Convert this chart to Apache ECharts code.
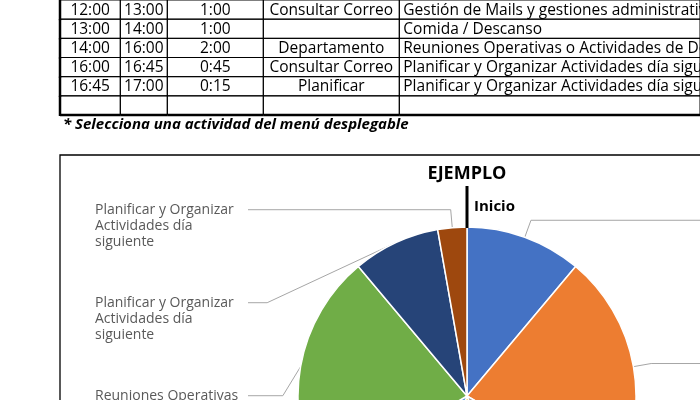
<!DOCTYPE html>
<html>
<head>
    <meta charset="utf-8">
    <title>EJEMPLO</title>
    <script src="https://cdn.jsdelivr.net/npm/echarts@6/dist/echarts.min.js"></script>
    <style type="text/css">
        html, body { margin: 0; padding: 0; background: #fff; }
        #main { width: 700px; height: 400px; }
    </style>
</head>
<body>
<div id="main"></div>
<script type="text/javascript">
    // tabla (filas visibles)
    var horaInicio = ['12:00', '13:00', '14:00', '16:00', '16:45', ''];
    var horaFin = ['13:00', '14:00', '16:00', '16:45', '17:00', ''];
    var duracion = ['1:00', '1:00', '2:00', '0:45', '0:15', ''];
    var tipo = ['Consultar Correo', '', 'Departamento', 'Consultar Correo', 'Planificar', ''];
    var actividad = [
        'Gestión de Mails y gestiones administrativas',
        'Comida / Descanso',
        'Reuniones Operativas o Actividades de Departamento',
        'Planificar y Organizar Actividades día siguiente',
        'Planificar y Organizar Actividades día siguiente',
        ''
    ];

    // tarta: jornada completa en minutos
    var actividadesPie = [
        'Consultar Correo',
        'Actividades de Departamento',
        'Proyectos',
        'Gestión de Mails y gestiones administrativas',
        'Comida / Descanso',
        'Reuniones Operativas o Actividades de Departamento',
        'Planificar y Organizar Actividades día siguiente',
        'Planificar y Organizar Actividades día siguiente'
    ];
    var minutosPie = [60, 120, 60, 60, 60, 120, 45, 15];
    var coloresPie = ['#4472C4', '#ED7D31', '#A5A5A5', '#FFC000', '#5B9BD5', '#70AD47', '#264478', '#9E480E'];

    var fuente = '"Open Sans", sans-serif';
    var columnas = [horaInicio, horaFin, duracion, tipo, actividad];
    var bordesCol = [0, 60.3, 107.3, 203.3, 339.3, 640];

    var celdas = [];
    for (var r = 0; r < horaInicio.length; r++) {
        for (var c = 0; c < columnas.length; c++) {
            celdas.push([c, r]);
        }
    }

    var pieData = actividadesPie.map(function (n, i) {
        return {name: n, value: minutosPie[i], itemStyle: {color: coloresPie[i]}};
    });

    // caja del gráfico y centro de la tarta
    var caja = {left: 60, top: 155, width: 1100, height: 600};
    var cx = 467, cy = 396, radio = 169;
    var altoLinea = 16;
    var relleno = 43; // hueco bajo cada etiqueta para separarlas como en Excel

    var myChart = echarts.init(document.getElementById('main'));
    var option = {
        backgroundColor: '#fff',
        animation: false,
        title: {
            text: '* Selecciona una actividad del menú desplegable',
            left: 63,
            top: 117,
            padding: 0,
            textStyle: {fontFamily: fuente, fontSize: 15, fontWeight: 'bold', fontStyle: 'italic', color: '#000'}
        },
        grid: {left: 60, top: -5, width: 640, height: 120},
        xAxis: {type: 'value', min: 0, max: 640, show: false},
        yAxis: {type: 'category', data: horaInicio.map(function (v, i) { return i; }), inverse: true, show: false},
        graphic: [{
            type: 'rect',
            shape: {x: caja.left, y: caja.top, width: 900, height: 400},
            style: {fill: 'none', stroke: '#000', lineWidth: 1.3},
            z: 0
        }, {
            type: 'text',
            x: cx,
            y: 174,
            style: {
                text: 'EJEMPLO', fill: '#000', font: 'bold 18px ' + fuente,
                textAlign: 'center', textVerticalAlign: 'middle'
            },
            z: 100
        }, {
            type: 'line',
            shape: {x1: cx, y1: cy - radio - 41, x2: cx, y2: cy - radio + 1},
            style: {stroke: '#000', lineWidth: 3},
            z: 100
        }, {
            type: 'text',
            x: cx + 7,
            y: cy - radio - 20,
            style: {
                text: 'Inicio', fill: '#000', font: 'bold 15px ' + fuente,
                textVerticalAlign: 'middle'
            },
            z: 100
        }],
        series: [{
            type: 'custom',
            coordinateSystem: 'cartesian2d',
            data: celdas,
            silent: true,
            clip: false,
            renderItem: function (params, api) {
                var c = api.value(0), r = api.value(1);
                var p0 = api.coord([bordesCol[c], r]);
                var p1 = api.coord([bordesCol[c + 1], r]);
                var h = api.size([0, 1])[1];
                var y0 = p0[1] - h / 2;
                var izquierda = c === 4;
                var children = [{
                    type: 'rect',
                    shape: {x: p0[0], y: y0, width: p1[0] - p0[0], height: h},
                    style: {fill: 'none', stroke: '#000', lineWidth: 1}
                }, {
                    type: 'text',
                    style: {
                        text: columnas[c][r],
                        x: izquierda ? p0[0] + 4 : (p0[0] + p1[0]) / 2,
                        y: p0[1] + 0.5,
                        align: izquierda ? 'left' : 'center',
                        verticalAlign: 'middle',
                        fill: '#000',
                        font: '15.5px ' + fuente
                    }
                }];
                if (c === 0) {
                    children.push({type: 'line', shape: {x1: p0[0], y1: y0, x2: p0[0], y2: y0 + h + 1},
                        style: {stroke: '#000', lineWidth: 2.5}});
                }
                if (r === horaInicio.length - 1) {
                    children.push({type: 'line', shape: {x1: p0[0], y1: y0 + h, x2: p1[0], y2: y0 + h},
                        style: {stroke: '#000', lineWidth: 2.5}});
                }
                return {type: 'group', children: children};
            }
        }, {
            type: 'pie',
            left: caja.left,
            top: caja.top,
            width: caja.width,
            height: caja.height,
            center: [cx - caja.left, cy - caja.top],
            radius: radio,
            startAngle: 90,
            clockwise: true,
            data: pieData,
            itemStyle: {borderColor: '#fff', borderWidth: 1.5},
            label: {
                color: '#595959',
                fontFamily: fuente,
                fontSize: 14,
                lineHeight: altoLinea,
                width: 148,
                overflow: 'break',
                padding: [0, 0, relleno, 0],
                alignTo: 'edge',
                edgeDistance: 35
            },
            labelLine: {
                length: 18,
                length2: 0,
                lineStyle: {color: '#a6a6a6', width: 1}
            },
            // la línea guía se une a la primera línea del texto, como en Excel
            labelLayout: function (params) {
                return {dy: (params.labelRect.height - relleno) / 2 - altoLinea / 2};
            },
            emphasis: {disabled: true}
        }]
    };
    myChart.setOption(option);
</script>
</body>
</html>
